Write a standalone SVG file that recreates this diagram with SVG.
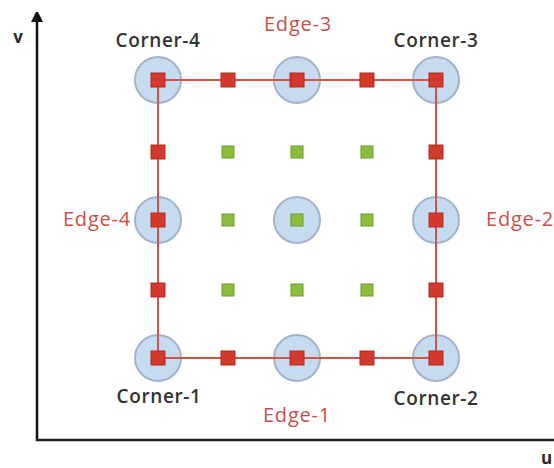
<svg xmlns="http://www.w3.org/2000/svg" width="554" height="468" viewBox="0 0 554 468">
<style>
.circ{fill:#c6daf0;stroke:#a3b3cc;stroke-width:2}
.red{fill:#d13a2c;stroke:#b02a20;stroke-width:1}
.grn{fill:#8dbd3c;stroke:#6f9a2c;stroke-width:1}
.lbl{font-family:"Open Sans","Liberation Sans",sans-serif;font-size:19px;font-weight:600;fill:#333;text-anchor:middle;letter-spacing:0.6px}
.elbl{font-family:"Open Sans","Liberation Sans",sans-serif;font-size:20px;font-weight:500;fill:#c8504a;text-anchor:middle;letter-spacing:0.8px}
.ax{font-family:"Open Sans","Liberation Sans",sans-serif;font-size:17px;font-weight:bold;fill:#2a2a2a;text-anchor:middle}
</style>
<defs>
<marker id="ah" viewBox="0 0 10 12" refX="2" refY="6" markerWidth="4" markerHeight="5" orient="auto">
<path d="M0,0 L12,6 L0,12 z" fill="#111"/>
</marker>
</defs>
<rect width="554" height="468" fill="#fff"/>
<g id="axes">
<line x1="37" y1="441" x2="37" y2="20" stroke="#111" stroke-width="2.5" marker-end="url(#ah)"/>
<line x1="36" y1="440" x2="554" y2="440" stroke="#222" stroke-width="2.5"/>
<text class="ax" x="18" y="43">v</text>
<text class="ax" x="541" y="464" style="text-anchor:start">u</text>
</g>
<g id="circles">
<circle class="circ" cx="158" cy="80" r="23"/>
<circle class="circ" cx="297" cy="80" r="23"/>
<circle class="circ" cx="436" cy="80" r="23"/>
<circle class="circ" cx="158" cy="220" r="23"/>
<circle class="circ" cx="297" cy="220" r="23"/>
<circle class="circ" cx="436" cy="220" r="23"/>
<circle class="circ" cx="158" cy="358" r="23"/>
<circle class="circ" cx="297" cy="358" r="23"/>
<circle class="circ" cx="436" cy="358" r="23"/>
</g>
<g id="connectors">
<rect x="158" y="80" width="278" height="278" fill="none" stroke="#d4524a" stroke-width="2"/>
</g>
<g id="red-nodes">
<rect class="red" x="151" y="73" width="14" height="14"/>
<rect class="red" x="221" y="73" width="14" height="14"/>
<rect class="red" x="290" y="73" width="14" height="14"/>
<rect class="red" x="360" y="73" width="14" height="14"/>
<rect class="red" x="429" y="73" width="14" height="14"/>
<rect class="red" x="151" y="145" width="14" height="14"/>
<rect class="red" x="429" y="145" width="14" height="14"/>
<rect class="red" x="151" y="213" width="14" height="14"/>
<rect class="red" x="429" y="213" width="14" height="14"/>
<rect class="red" x="151" y="283" width="14" height="14"/>
<rect class="red" x="429" y="283" width="14" height="14"/>
<rect class="red" x="151" y="351" width="14" height="14"/>
<rect class="red" x="221" y="351" width="14" height="14"/>
<rect class="red" x="290" y="351" width="14" height="14"/>
<rect class="red" x="360" y="351" width="14" height="14"/>
<rect class="red" x="429" y="351" width="14" height="14"/>
</g>
<g id="green-nodes">
<rect class="grn" x="222" y="146" width="12" height="12"/>
<rect class="grn" x="291" y="146" width="12" height="12"/>
<rect class="grn" x="361" y="146" width="12" height="12"/>
<rect class="grn" x="222" y="214" width="12" height="12"/>
<rect class="grn" x="291" y="214" width="12" height="12"/>
<rect class="grn" x="361" y="214" width="12" height="12"/>
<rect class="grn" x="222" y="284" width="12" height="12"/>
<rect class="grn" x="291" y="284" width="12" height="12"/>
<rect class="grn" x="361" y="284" width="12" height="12"/>
</g>
<g id="labels">
<text class="lbl" x="158" y="47">Corner-4</text>
<text class="lbl" x="436" y="47">Corner-3</text>
<text class="lbl" x="159" y="403">Corner-1</text>
<text class="lbl" x="436" y="405">Corner-2</text>
<text class="elbl" x="298" y="31">Edge-3</text>
<text class="elbl" x="97" y="226">Edge-4</text>
<text class="elbl" x="486" y="226" style="text-anchor:start">Edge-2</text>
<text class="elbl" x="297" y="422">Edge-1</text>
</g>
</svg>
